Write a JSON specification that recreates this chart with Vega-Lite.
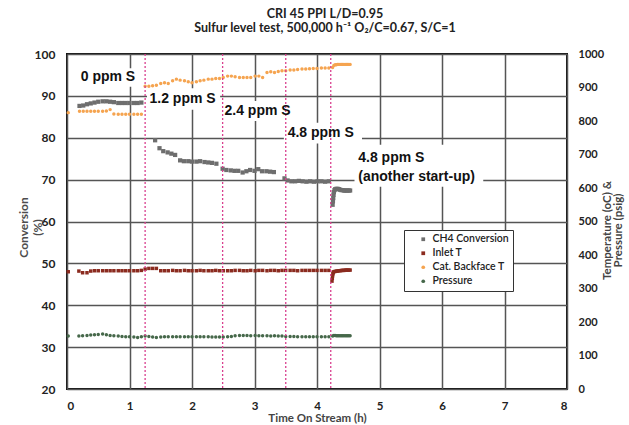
{
  "$schema": "https://vega.github.io/schema/vega-lite/v6.json",
  "width": 500,
  "height": 335,
  "autosize": "none",
  "padding": {"left": 67, "top": 54, "right": 62, "bottom": 36},
  "background": "white",
  "title": {
    "text": ["CRI 45 PPI L/D=0.95", "Sulfur level test, 500,000 h⁻¹ O₂/C=0.67, S/C=1"],
    "font": "Lato", "fontSize": 12.5, "fontWeight": "bold", "color": "#222",
    "anchor": "middle", "dx": 8, "offset": 14, "lineHeight": 13.5
  },
  "config": {
    "view": {"stroke": "#111", "strokeWidth": 2},
    "axis": {
      "domain": false, "ticks": false,
      "labelFont": "Lato", "labelFontWeight": "bold", "labelFontSize": 12, "labelColor": "#222",
      "titleFont": "Lato", "titleFontWeight": "bold", "titleFontSize": 12, "titleColor": "#444",
      "gridColor": "#555", "gridWidth": 1.5, "gridOpacity": 1
    },
    "legend": {
      "title": null, "orient": "none", "legendX": 337, "legendY": 176, "padding": 4, "symbolOffset": 10,
      "strokeColor": "#333", "fillColor": "white", "labelFont": "Lato", "labelFontSize": 10.5, "labelFontWeight": 600,
      "labelColor": "#222", "symbolSize": 14, "rowPadding": 3, "labelOffset": 4
    }
  },
  "datasets": {
    "conv": [
      {"t":0.20,"v":87.6},{"t":0.26,"v":87.7},{"t":0.32,"v":88.0},{"t":0.38,"v":88.2},{"t":0.44,"v":88.4},{"t":0.50,"v":88.6},{"t":0.57,"v":88.7},{"t":0.63,"v":88.7},{"t":0.69,"v":88.6},{"t":0.75,"v":88.5},{"t":0.82,"v":88.3},{"t":0.88,"v":88.3},{"t":0.94,"v":88.3},{"t":1.00,"v":88.3},{"t":1.07,"v":88.3},{"t":1.13,"v":88.3},{"t":1.19,"v":88.4},
      {"t":1.41,"v":79.4},{"t":1.48,"v":77.5},{"t":1.54,"v":76.8},{"t":1.61,"v":76.5},{"t":1.67,"v":76.2},{"t":1.73,"v":75.9},{"t":1.81,"v":74.6},{"t":1.87,"v":74.4},{"t":1.94,"v":74.4},{"t":2.00,"v":74.3},{"t":2.07,"v":74.3},{"t":2.13,"v":74.4},{"t":2.20,"v":74.2},{"t":2.26,"v":74.1},{"t":2.32,"v":74.0},{"t":2.39,"v":73.8},
      {"t":2.49,"v":72.6},{"t":2.55,"v":72.3},{"t":2.62,"v":72.2},{"t":2.68,"v":72.1},{"t":2.74,"v":72.1},{"t":2.81,"v":71.7},{"t":2.87,"v":72.0},{"t":2.93,"v":72.3},{"t":3.00,"v":72.1},{"t":3.06,"v":72.5},{"t":3.12,"v":72.0},{"t":3.19,"v":72.0},{"t":3.25,"v":71.9},{"t":3.31,"v":71.8},
      {"t":3.48,"v":70.3},{"t":3.53,"v":69.8},{"t":3.59,"v":69.6},{"t":3.65,"v":69.6},{"t":3.71,"v":69.7},{"t":3.77,"v":69.6},{"t":3.83,"v":69.5},{"t":3.89,"v":69.6},{"t":3.95,"v":69.5},{"t":4.01,"v":69.6},{"t":4.07,"v":69.6},{"t":4.13,"v":69.5},{"t":4.19,"v":69.6},
      {"t":4.25,"v":64.0},{"t":4.255,"v":64.8},{"t":4.26,"v":65.6},{"t":4.265,"v":66.4},{"t":4.27,"v":67.0},{"t":4.28,"v":67.5},{"t":4.29,"v":67.7},{"t":4.31,"v":67.8},{"t":4.33,"v":67.8},{"t":4.35,"v":67.7},{"t":4.37,"v":67.6},{"t":4.39,"v":67.5},{"t":4.41,"v":67.5},{"t":4.43,"v":67.4},{"t":4.45,"v":67.4},{"t":4.47,"v":67.4},{"t":4.49,"v":67.4},{"t":4.51,"v":67.4},{"t":4.53,"v":67.4}
    ],
    "temp": [
      {"s":"Cat. Backface T","t":0.02,"v":825},{"s":"Cat. Backface T","t":0.20,"v":829},{"s":"Cat. Backface T","t":0.26,"v":829},{"s":"Cat. Backface T","t":0.32,"v":829},{"s":"Cat. Backface T","t":0.38,"v":829},{"s":"Cat. Backface T","t":0.44,"v":829},{"s":"Cat. Backface T","t":0.50,"v":829},{"s":"Cat. Backface T","t":0.57,"v":829},{"s":"Cat. Backface T","t":0.63,"v":830},{"s":"Cat. Backface T","t":0.69,"v":834},{"s":"Cat. Backface T","t":0.75,"v":821},{"s":"Cat. Backface T","t":0.82,"v":820},{"s":"Cat. Backface T","t":0.88,"v":820},{"s":"Cat. Backface T","t":0.94,"v":820},{"s":"Cat. Backface T","t":1.00,"v":820},{"s":"Cat. Backface T","t":1.07,"v":820},{"s":"Cat. Backface T","t":1.13,"v":820},{"s":"Cat. Backface T","t":1.19,"v":820},
      {"s":"Cat. Backface T","t":1.25,"v":904},{"s":"Cat. Backface T","t":1.31,"v":904},{"s":"Cat. Backface T","t":1.37,"v":905},{"s":"Cat. Backface T","t":1.43,"v":907},{"s":"Cat. Backface T","t":1.50,"v":912},{"s":"Cat. Backface T","t":1.56,"v":914},{"s":"Cat. Backface T","t":1.62,"v":912},{"s":"Cat. Backface T","t":1.69,"v":920},{"s":"Cat. Backface T","t":1.75,"v":925},{"s":"Cat. Backface T","t":1.81,"v":922},{"s":"Cat. Backface T","t":1.88,"v":920},{"s":"Cat. Backface T","t":1.94,"v":917},{"s":"Cat. Backface T","t":2.00,"v":914},{"s":"Cat. Backface T","t":2.07,"v":917},{"s":"Cat. Backface T","t":2.13,"v":920},{"s":"Cat. Backface T","t":2.19,"v":922},{"s":"Cat. Backface T","t":2.26,"v":925},{"s":"Cat. Backface T","t":2.32,"v":925},{"s":"Cat. Backface T","t":2.38,"v":927},{"s":"Cat. Backface T","t":2.44,"v":927},
      {"s":"Cat. Backface T","t":2.50,"v":930},{"s":"Cat. Backface T","t":2.57,"v":934},{"s":"Cat. Backface T","t":2.63,"v":934},{"s":"Cat. Backface T","t":2.69,"v":932},{"s":"Cat. Backface T","t":2.76,"v":930},{"s":"Cat. Backface T","t":2.82,"v":930},{"s":"Cat. Backface T","t":2.88,"v":930},{"s":"Cat. Backface T","t":2.94,"v":930},{"s":"Cat. Backface T","t":3.01,"v":934},{"s":"Cat. Backface T","t":3.07,"v":934},{"s":"Cat. Backface T","t":3.13,"v":930},{"s":"Cat. Backface T","t":3.20,"v":945},{"s":"Cat. Backface T","t":3.26,"v":947},{"s":"Cat. Backface T","t":3.32,"v":945},{"s":"Cat. Backface T","t":3.38,"v":948},{"s":"Cat. Backface T","t":3.44,"v":950},
      {"s":"Cat. Backface T","t":3.50,"v":950},{"s":"Cat. Backface T","t":3.57,"v":952},{"s":"Cat. Backface T","t":3.63,"v":952},{"s":"Cat. Backface T","t":3.69,"v":954},{"s":"Cat. Backface T","t":3.76,"v":955},{"s":"Cat. Backface T","t":3.82,"v":955},{"s":"Cat. Backface T","t":3.88,"v":956},{"s":"Cat. Backface T","t":3.94,"v":957},{"s":"Cat. Backface T","t":4.00,"v":957},{"s":"Cat. Backface T","t":4.07,"v":958},{"s":"Cat. Backface T","t":4.13,"v":958},{"s":"Cat. Backface T","t":4.19,"v":958},
      {"s":"Cat. Backface T","t":4.25,"v":960},{"s":"Cat. Backface T","t":4.27,"v":966},{"s":"Cat. Backface T","t":4.29,"v":968},{"s":"Cat. Backface T","t":4.31,"v":968},{"s":"Cat. Backface T","t":4.33,"v":969},{"s":"Cat. Backface T","t":4.35,"v":969},{"s":"Cat. Backface T","t":4.37,"v":969},{"s":"Cat. Backface T","t":4.39,"v":969},{"s":"Cat. Backface T","t":4.41,"v":969},{"s":"Cat. Backface T","t":4.43,"v":969},{"s":"Cat. Backface T","t":4.45,"v":969},{"s":"Cat. Backface T","t":4.47,"v":969},{"s":"Cat. Backface T","t":4.49,"v":969},{"s":"Cat. Backface T","t":4.51,"v":969},{"s":"Cat. Backface T","t":4.53,"v":969},

      {"s":"Inlet T","t":0.02,"v":350},{"s":"Inlet T","t":0.19,"v":352},{"s":"Inlet T","t":0.25,"v":347},{"s":"Inlet T","t":0.32,"v":347},{"s":"Inlet T","t":0.38,"v":352},{"s":"Inlet T","t":0.44,"v":353},{"s":"Inlet T","t":0.50,"v":353},{"s":"Inlet T","t":0.57,"v":353},{"s":"Inlet T","t":0.63,"v":353},{"s":"Inlet T","t":0.69,"v":353},{"s":"Inlet T","t":0.75,"v":353},{"s":"Inlet T","t":0.82,"v":353},{"s":"Inlet T","t":0.88,"v":353},{"s":"Inlet T","t":0.94,"v":353},{"s":"Inlet T","t":1.00,"v":353},{"s":"Inlet T","t":1.07,"v":353},{"s":"Inlet T","t":1.13,"v":353},{"s":"Inlet T","t":1.19,"v":354},{"s":"Inlet T","t":1.25,"v":358},{"s":"Inlet T","t":1.31,"v":360},{"s":"Inlet T","t":1.37,"v":360},{"s":"Inlet T","t":1.43,"v":360},
      {"s":"Inlet T","t":1.50,"v":353},{"s":"Inlet T","t":1.56,"v":353},{"s":"Inlet T","t":1.62,"v":353},{"s":"Inlet T","t":1.69,"v":354},{"s":"Inlet T","t":1.75,"v":353},{"s":"Inlet T","t":1.81,"v":353},{"s":"Inlet T","t":1.88,"v":354},{"s":"Inlet T","t":1.94,"v":353},{"s":"Inlet T","t":2.00,"v":353},{"s":"Inlet T","t":2.07,"v":353},{"s":"Inlet T","t":2.13,"v":354},{"s":"Inlet T","t":2.19,"v":353},{"s":"Inlet T","t":2.26,"v":353},{"s":"Inlet T","t":2.32,"v":353},{"s":"Inlet T","t":2.38,"v":354},{"s":"Inlet T","t":2.44,"v":353},{"s":"Inlet T","t":2.50,"v":353},{"s":"Inlet T","t":2.57,"v":353},{"s":"Inlet T","t":2.63,"v":353},{"s":"Inlet T","t":2.69,"v":354},{"s":"Inlet T","t":2.76,"v":354},{"s":"Inlet T","t":2.82,"v":353},{"s":"Inlet T","t":2.88,"v":353},{"s":"Inlet T","t":2.94,"v":354},{"s":"Inlet T","t":3.01,"v":353},{"s":"Inlet T","t":3.07,"v":354},{"s":"Inlet T","t":3.13,"v":354},{"s":"Inlet T","t":3.20,"v":353},{"s":"Inlet T","t":3.26,"v":354},{"s":"Inlet T","t":3.32,"v":354},{"s":"Inlet T","t":3.38,"v":353},{"s":"Inlet T","t":3.44,"v":354},{"s":"Inlet T","t":3.50,"v":354},{"s":"Inlet T","t":3.57,"v":354},{"s":"Inlet T","t":3.63,"v":354},{"s":"Inlet T","t":3.69,"v":353},{"s":"Inlet T","t":3.76,"v":354},{"s":"Inlet T","t":3.82,"v":354},{"s":"Inlet T","t":3.88,"v":354},{"s":"Inlet T","t":3.94,"v":354},{"s":"Inlet T","t":4.00,"v":354},{"s":"Inlet T","t":4.07,"v":354},{"s":"Inlet T","t":4.13,"v":354},{"s":"Inlet T","t":4.19,"v":354},
      {"s":"Inlet T","t":4.24,"v":322},{"s":"Inlet T","t":4.245,"v":330},{"s":"Inlet T","t":4.25,"v":338},{"s":"Inlet T","t":4.255,"v":344},{"s":"Inlet T","t":4.26,"v":348},{"s":"Inlet T","t":4.27,"v":350},{"s":"Inlet T","t":4.29,"v":351},{"s":"Inlet T","t":4.31,"v":352},{"s":"Inlet T","t":4.33,"v":352},{"s":"Inlet T","t":4.35,"v":353},{"s":"Inlet T","t":4.37,"v":353},{"s":"Inlet T","t":4.39,"v":354},{"s":"Inlet T","t":4.41,"v":354},{"s":"Inlet T","t":4.43,"v":354},{"s":"Inlet T","t":4.45,"v":355},{"s":"Inlet T","t":4.47,"v":355},{"s":"Inlet T","t":4.49,"v":355},{"s":"Inlet T","t":4.51,"v":355},{"s":"Inlet T","t":4.53,"v":355},

      {"s":"Pressure","t":0.02,"v":158},{"s":"Pressure","t":0.19,"v":158},{"s":"Pressure","t":0.25,"v":159},{"s":"Pressure","t":0.32,"v":160},{"s":"Pressure","t":0.38,"v":161},{"s":"Pressure","t":0.44,"v":162},{"s":"Pressure","t":0.50,"v":163},{"s":"Pressure","t":0.57,"v":164},{"s":"Pressure","t":0.63,"v":162},{"s":"Pressure","t":0.69,"v":160},{"s":"Pressure","t":0.75,"v":159},{"s":"Pressure","t":0.82,"v":158},{"s":"Pressure","t":0.88,"v":157},{"s":"Pressure","t":0.94,"v":156},{"s":"Pressure","t":1.00,"v":156},{"s":"Pressure","t":1.07,"v":155},{"s":"Pressure","t":1.13,"v":154},{"s":"Pressure","t":1.19,"v":156},{"s":"Pressure","t":1.25,"v":158},{"s":"Pressure","t":1.31,"v":157},{"s":"Pressure","t":1.37,"v":155},{"s":"Pressure","t":1.43,"v":154},
      {"s":"Pressure","t":1.50,"v":155},{"s":"Pressure","t":1.56,"v":156},{"s":"Pressure","t":1.62,"v":156},{"s":"Pressure","t":1.69,"v":156},{"s":"Pressure","t":1.75,"v":156},{"s":"Pressure","t":1.81,"v":156},{"s":"Pressure","t":1.88,"v":156},{"s":"Pressure","t":1.94,"v":156},{"s":"Pressure","t":2.00,"v":156},{"s":"Pressure","t":2.07,"v":156},{"s":"Pressure","t":2.13,"v":156},{"s":"Pressure","t":2.19,"v":156},{"s":"Pressure","t":2.26,"v":156},{"s":"Pressure","t":2.32,"v":155},{"s":"Pressure","t":2.38,"v":155},{"s":"Pressure","t":2.44,"v":155},{"s":"Pressure","t":2.50,"v":155},{"s":"Pressure","t":2.57,"v":156},{"s":"Pressure","t":2.63,"v":157},{"s":"Pressure","t":2.69,"v":159},{"s":"Pressure","t":2.76,"v":160},{"s":"Pressure","t":2.82,"v":160},{"s":"Pressure","t":2.88,"v":160},{"s":"Pressure","t":2.94,"v":159},{"s":"Pressure","t":3.01,"v":160},{"s":"Pressure","t":3.07,"v":159},{"s":"Pressure","t":3.13,"v":159},{"s":"Pressure","t":3.20,"v":159},{"s":"Pressure","t":3.26,"v":158},{"s":"Pressure","t":3.32,"v":159},{"s":"Pressure","t":3.38,"v":158},{"s":"Pressure","t":3.44,"v":158},{"s":"Pressure","t":3.50,"v":157},{"s":"Pressure","t":3.57,"v":157},{"s":"Pressure","t":3.63,"v":157},{"s":"Pressure","t":3.69,"v":156},{"s":"Pressure","t":3.76,"v":156},{"s":"Pressure","t":3.82,"v":156},{"s":"Pressure","t":3.88,"v":156},{"s":"Pressure","t":3.94,"v":156},{"s":"Pressure","t":4.00,"v":156},{"s":"Pressure","t":4.07,"v":156},{"s":"Pressure","t":4.13,"v":156},{"s":"Pressure","t":4.19,"v":156},
      {"s":"Pressure","t":4.25,"v":158},{"s":"Pressure","t":4.27,"v":160},{"s":"Pressure","t":4.29,"v":160},{"s":"Pressure","t":4.31,"v":159},{"s":"Pressure","t":4.33,"v":159},{"s":"Pressure","t":4.35,"v":159},{"s":"Pressure","t":4.37,"v":159},{"s":"Pressure","t":4.39,"v":159},{"s":"Pressure","t":4.41,"v":159},{"s":"Pressure","t":4.43,"v":159},{"s":"Pressure","t":4.45,"v":159},{"s":"Pressure","t":4.47,"v":159},{"s":"Pressure","t":4.49,"v":159},{"s":"Pressure","t":4.51,"v":159},{"s":"Pressure","t":4.53,"v":159}
    ],
    "events": [{"t":1.25},{"t":2.49},{"t":3.50},{"t":4.22}],
    "boxes": [
      {"t":0.15,"t2":1.2,"v":96.6,"v2":92.2},
      {"t":1.28,"t2":2.45,"v":91.8,"v2":86.7},
      {"t":2.51,"t2":3.45,"v":88.8,"v2":84.0},
      {"t":3.47,"t2":4.72,"v":83.6,"v2":78.6},
      {"t":4.6,"t2":6.66,"v":78.3,"v2":68.3}
    ],
    "labels": [
      {"t":0.22,"v":94.4,"label":"0 ppm S"},
      {"t":1.32,"v":89.2,"label":"1.2 ppm S"},
      {"t":2.52,"v":86.4,"label":"2.4 ppm S"},
      {"t":3.53,"v":81.1,"label":"4.8 ppm S"},
      {"t":4.66,"v":75.1,"label":"4.8 ppm S"},
      {"t":4.66,"v":70.7,"label":"(another start-up)"}
    ]
  },
  "encoding": {
    "x": {
      "field": "t", "type": "quantitative",
      "scale": {"domain": [0, 8], "nice": false, "zero": false},
      "axis": {"values": [0,1,2,3,4,5,6,7,8], "grid": true, "labelPadding": 11, "labelFontSize": 11.5, "title": "Time On Stream (h)", "titleFontSize": 11.5, "titlePadding": 1}
    }
  },
  "layer": [
    {
      "data": {"name": "conv"},
      "mark": {"type": "point", "filled": true, "size": 18, "opacity": 1},
      "encoding": {
        "y": {
          "field": "v", "type": "quantitative",
          "scale": {"domain": [20, 100], "nice": false, "zero": false},
          "axis": {"values": [20,30,40,50,60,70,80,90,100], "grid": true, "labelPadding": 12,
                   "title": ["Conversion", "(%)"], "titleAngle": 270, "titleBaseline": "middle", "titleX": -44, "titleY": 173, "titleColor": "#4d4d4d"}
        },
        "color": {"datum": "CH4 Conversion", "type": "nominal",
          "scale": {"domain": ["CH4 Conversion", "Inlet T", "Cat. Backface T", "Pressure"], "range": ["#6e6e6e", "#8b2b1f", "#f5a450", "#46684a"]}},
        "shape": {"datum": "CH4 Conversion", "type": "nominal",
          "scale": {"domain": ["CH4 Conversion", "Inlet T", "Cat. Backface T", "Pressure"], "range": ["square", "square", "circle", "circle"]}}
      }
    },
    {
      "data": {"name": "temp"},
      "mark": {"type": "point", "filled": true, "size": 12, "opacity": 1},
      "encoding": {
        "y": {
          "field": "v", "type": "quantitative",
          "scale": {"domain": [0, 1000], "nice": false, "zero": true},
          "axis": {"orient": "right", "values": [0,100,200,300,400,500,600,700,800,900,1000], "format": "d", "grid": false, "labelPadding": 11, "labelFontSize": 11,
                   "title": ["Temperature (oC) &", "Pressure (psig)"], "titleFontSize": 11.5, "titleLineHeight": 11, "titleAngle": 270, "titleBaseline": "middle", "titleX": 40, "titleY": 176}
        },
        "color": {"field": "s", "type": "nominal",
          "scale": {"domain": ["CH4 Conversion", "Inlet T", "Cat. Backface T", "Pressure"], "range": ["#6e6e6e", "#8b2b1f", "#f5a450", "#46684a"]}},
        "shape": {"field": "s", "type": "nominal",
          "scale": {"domain": ["CH4 Conversion", "Inlet T", "Cat. Backface T", "Pressure"], "range": ["square", "square", "circle", "circle"]}}
      }
    },
    {
      "data": {"name": "boxes"},
      "mark": {"type": "rect", "fill": "white"},
      "encoding": {
        "x2": {"field": "t2"},
        "y": {"field": "v", "type": "quantitative", "scale": {"domain": [20, 100], "nice": false, "zero": false}, "axis": null},
        "y2": {"field": "v2"}
      }
    },
    {
      "data": {"name": "events"},
      "mark": {"type": "rule", "color": "#d9408f", "strokeDash": [2, 2], "strokeWidth": 1.3},
      "encoding": {}
    },
    {
      "data": {"name": "labels"},
      "mark": {"type": "text", "font": "Liberation Sans", "fontWeight": "bold", "fontSize": 14, "align": "left", "baseline": "middle", "color": "#111"},
      "encoding": {
        "y": {"field": "v", "type": "quantitative", "scale": {"domain": [20, 100], "nice": false, "zero": false}, "axis": null},
        "text": {"field": "label"}
      }
    }
  ],
  "resolve": {"scale": {"y": "independent"}}
}
